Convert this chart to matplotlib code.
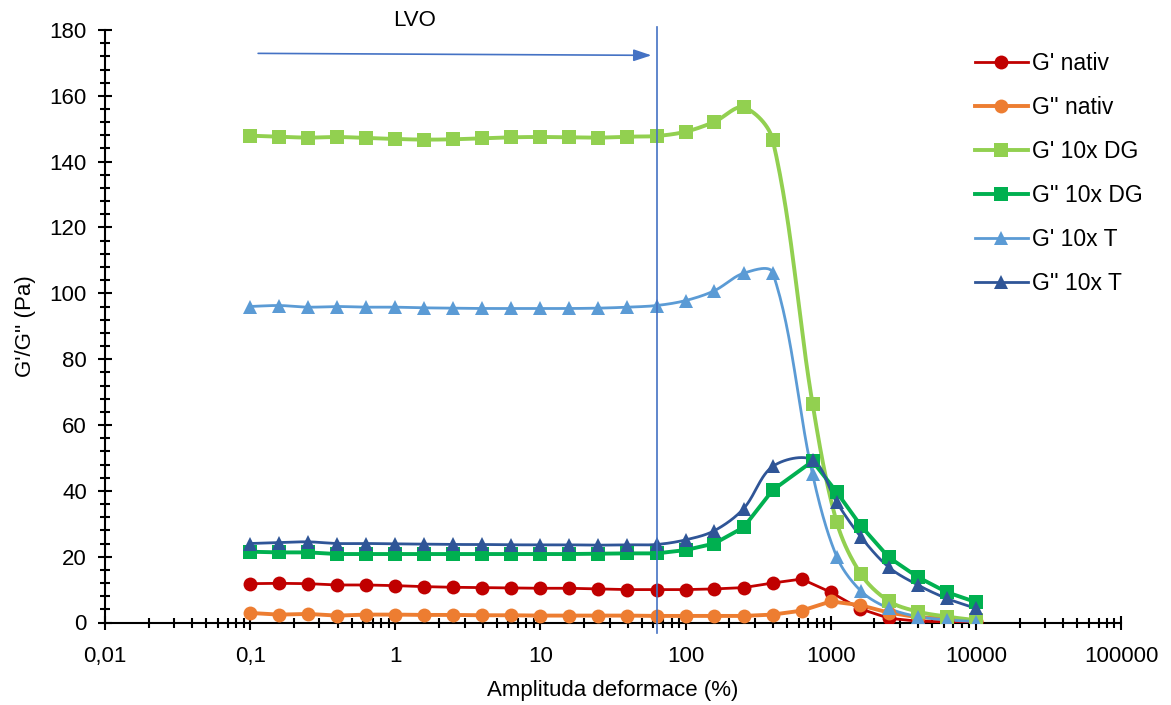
import numpy as np
import matplotlib
matplotlib.use("Agg")
import matplotlib.pyplot as plt
from matplotlib.lines import Line2D
from matplotlib.ticker import LogLocator, MultipleLocator, NullFormatter, FuncFormatter

plt.rcParams['font.family'] = ['Liberation Sans', 'DejaVu Sans']

# ---------------- data ----------------
x_nativ = [0.1, 0.158, 0.251, 0.398, 0.631, 1, 1.58, 2.51, 3.98, 6.31, 10, 15.8, 25.1,
           39.8, 63.1, 100, 158, 251, 398, 631, 1000, 1585, 2512, 3981, 6310, 10000]
x_10x = [0.1, 0.158, 0.251, 0.398, 0.631, 1, 1.58, 2.51, 3.98, 6.31, 10, 15.8, 25.1,
         39.8, 63.1, 100, 158, 251, 398, 750, 1100, 1620, 2512, 3981, 6310, 10000]

g1_nativ = [11.8, 11.9, 11.8, 11.4, 11.4, 11.2, 10.9, 10.7, 10.6, 10.5, 10.4, 10.4, 10.2,
            10.0, 10.0, 10.0, 10.2, 10.6, 12.0, 13.2, 9.2, 4.2, 1.3, 0.4, 0.2, 0.1]
g2_nativ = [2.9, 2.4, 2.6, 2.1, 2.4, 2.4, 2.3, 2.3, 2.2, 2.2, 2.1, 2.1, 2.1,
            2.1, 2.0, 2.0, 2.0, 2.0, 2.4, 3.6, 6.4, 5.3, 3.0, 1.6, 1.2, 0.6]
g1_dg = [147.9, 147.6, 147.3, 147.5, 147.2, 146.9, 146.7, 146.8, 147.1, 147.4, 147.5, 147.4, 147.3,
         147.6, 147.8, 149.1, 152.1, 156.5, 146.7, 66.4, 30.5, 14.6, 6.5, 3.3, 1.8, 0.7]
g2_dg = [21.5, 21.3, 21.3, 20.8, 20.8, 20.8, 20.8, 20.8, 20.8, 20.8, 20.8, 20.8, 20.9,
         21.0, 21.0, 22.0, 24.0, 28.9, 40.2, 49.0, 39.6, 29.3, 19.8, 13.8, 9.2, 6.2]
g1_t = [96.0, 96.3, 95.8, 96.0, 95.8, 95.8, 95.6, 95.5, 95.4, 95.4, 95.4, 95.4, 95.5,
        95.8, 96.3, 97.8, 100.8, 106.1, 106.3, 45.0, 20.0, 9.5, 4.3, 1.8, 0.8, 0.3]
g2_t = [24.0, 24.3, 24.5, 24.0, 24.0, 23.9, 23.8, 23.7, 23.7, 23.6, 23.6, 23.6, 23.5,
        23.6, 23.7, 25.1, 27.9, 34.6, 47.4, 49.4, 36.5, 25.9, 16.8, 11.4, 7.3, 4.3]

labels = ["G' nativ", "G'' nativ", "G' 10x DG", "G'' 10x DG", "G' 10x T", "G'' 10x T"]
LVO_LIMIT = 63.1
x_ticks = [0.01, 0.1, 1, 10, 100, 1000, 10000, 100000]
x_tick_labels = ["0,01", "0,1", "1", "10", "100", "1000", "10000", "100000"]

# ---------------- styles ----------------
series = [
    (x_nativ, g1_nativ, '#C00000', 'o', 10.0, 2.0, False),
    (x_nativ, g2_nativ, '#ED7D31', 'o', 10.0, 2.8, False),
    (x_10x, g1_dg, '#92D050', 's', 10.0, 2.8, True),
    (x_10x, g2_dg, '#00B050', 's', 10.0, 2.8, False),
    (x_10x, g1_t, '#5B9BD5', '^', 10.5, 2.0, True),
    (x_10x, g2_t, '#2F5597', '^', 10.5, 2.0, True),
]

W, H = 1171, 705
left, right, top, bottom = 105, 1121, 30, 622.5
PX_DEC = (right - left) / 7.0       # pixels per decade
PX_UNIT = (bottom - top) / 180.0    # pixels per y unit


def smooth(x, y, n=30):
    """Excel-like Bezier smoothing (chord-length weighted Catmull-Rom) in pixel space."""
    lx = np.log10(np.asarray(x, float)) * PX_DEC
    py = np.asarray(y, float) * PX_UNIT
    pts = np.column_stack([lx, py])
    P = np.vstack([pts[0], pts, pts[-1]])
    t = np.linspace(0, 1, n, endpoint=False)[:, None]
    out = []
    for i in range(len(pts) - 1):
        p0, p1, p2, p3 = P[i], P[i + 1], P[i + 2], P[i + 3]
        d01 = np.hypot(*(p1 - p0)); d12 = np.hypot(*(p2 - p1)); d23 = np.hypot(*(p3 - p2))
        f1 = d12 / (3.0 * (d01 + d12)) if (d01 + d12) > 0 else 0
        f2 = d12 / (3.0 * (d12 + d23)) if (d12 + d23) > 0 else 0
        c1 = p1 + (p2 - p0) * f1
        c2 = p2 - (p3 - p1) * f2
        seg = ((1 - t) ** 3) * p1 + 3 * ((1 - t) ** 2) * t * c1 + 3 * (1 - t) * t ** 2 * c2 + t ** 3 * p2
        out.append(seg)
    out.append(pts[-1:])
    arr = np.vstack(out)
    return 10 ** (arr[:, 0] / PX_DEC), arr[:, 1] / PX_UNIT


fig = plt.figure(figsize=(W / 100, H / 100), dpi=100)
ax = fig.add_axes([left / W, (H - bottom) / H, (right - left) / W, (bottom - top) / H])

handles = []
for (xs, ys, col, mk, ms, lw, sm) in series:
    if sm:
        sx, sy = smooth(xs, ys)
        ax.plot(sx, sy, color=col, lw=lw, zorder=3, solid_capstyle='round')
    else:
        ax.plot(xs, ys, color=col, lw=lw, zorder=3, solid_joinstyle='round')
    ax.plot(xs, ys, ls='none', marker=mk, ms=ms, color=col, mec=col, mew=0, zorder=4)
    handles.append(Line2D([], [], color=col, lw=lw, marker=mk, ms=ms, mec=col, mew=0))

ax.set_xscale('log')
ax.set_xlim(x_ticks[0], x_ticks[-1])
ax.set_ylim(0, 180)
ax.set_xticks(x_ticks)
ax.xaxis.set_major_formatter(FuncFormatter(lambda v, p: x_tick_labels[x_ticks.index(v)] if v in x_ticks else ""))
ax.xaxis.set_minor_locator(LogLocator(base=10, subs=np.arange(2, 10), numticks=100))
ax.xaxis.set_minor_formatter(NullFormatter())
ax.yaxis.set_major_locator(MultipleLocator(20))
ax.yaxis.set_minor_locator(MultipleLocator(4))

for s in ['top', 'right']:
    ax.spines[s].set_visible(False)
for s in ['left', 'bottom']:
    ax.spines[s].set_linewidth(1.5)
    ax.spines[s].set_zorder(2)

ax.tick_params(which='major', direction='inout', length=10, width=1.5, labelsize=16, pad=8)
ax.tick_params(which='minor', direction='inout', length=6.5, width=1.5)
ax.tick_params(axis='x', which='major', pad=12)

ax.set_xlabel("Amplituda deformace (%)", fontsize=16, labelpad=9)
ax.set_ylabel("G'/G'' (Pa)", fontsize=16, labelpad=10)

# LVO marker line and arrow
ax.axvline(LVO_LIMIT, ymin=-0.018, ymax=1.005, color='#4472C4', lw=1.2, clip_on=False, zorder=5)
ax.annotate('', xy=(58.2, 172.3), xytext=(0.1135, 172.9),
            arrowprops=dict(arrowstyle='-|>,head_length=0.6,head_width=0.2',
                            color='#4472C4', lw=1.2, mutation_scale=18, shrinkA=0, shrinkB=0),
            annotation_clip=False)
ax.text(1.36, 183, 'LVO', ha='center', va='center', fontsize=16, clip_on=False)

fig.legend(handles, labels, loc='upper left', bbox_to_anchor=(975 / W, 1 - 52 / H),
           frameon=False, borderpad=0, borderaxespad=0, handlelength=2.3,
           handletextpad=0.2, labelspacing=0.92, fontsize=16.5, numpoints=1)

fig.savefig('out.png', dpi=100)
